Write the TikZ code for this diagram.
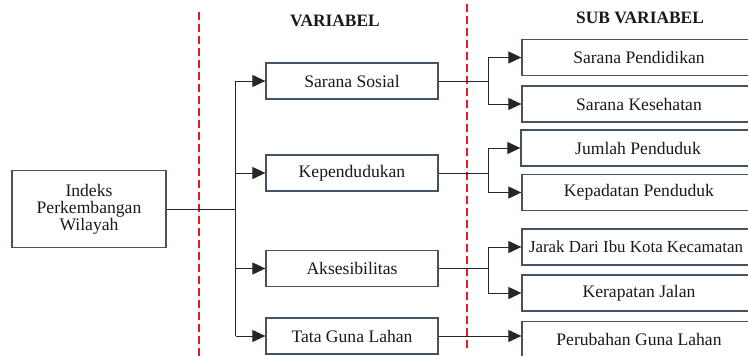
\documentclass[tikz,border=0pt]{standalone}
\usepackage{fontspec}
\setmainfont{Liberation Serif}
\usetikzlibrary{arrows.meta}
\definecolor{boxline}{RGB}{68,82,102}
\definecolor{txt}{RGB}{25,25,25}
\definecolor{dashred}{RGB}{232,24,36}
\tikzset{
  box/.style={draw=boxline, line width=1.3pt, inner sep=0pt, text=txt,
    font=\fontsize{17.6}{16.8}\selectfont, align=center},
  varbox/.style={box, minimum width=172pt, minimum height=36pt},
  subbox/.style={box, minimum width=234pt, minimum height=36pt},
  head/.style={inner sep=0pt, text=txt, font=\fontsize{17.4}{17}\selectfont\bfseries},
  conn/.style={draw=black!85, line width=1pt},
  arr/.style={conn, -{Triangle[length=13pt,width=12pt]}},
  reddash/.style={draw=dashred, line width=2pt, dash pattern=on 8pt off 4pt}
}
\begin{document}
\begin{tikzpicture}[x=1pt,y=-1pt]
\useasboundingbox (0,0) rectangle (748,356);
\clip (0,0) rectangle (748,356);
% headers
\node[head] (hv) at (335,21) {VARIABEL};
\node[head] (hs) at (640,18) {SUB VARIABEL};
% dashed separators
\coordinate (d1a) at (199,12);
\coordinate (d1b) at (199,356);
\coordinate (d2a) at (467,4);
\coordinate (d2b) at (467,348);
\draw[reddash] (d1a) -- (d1b);
\draw[reddash] (d2a) -- (d2b);
% root
\node[box, minimum width=154pt, minimum height=77pt] (ipw) at (89,209.3)
  {Indeks\\Perkembangan\\Wilayah};
% variables
\node[varbox] (ss) at (352,81) {Sarana Sosial};
\node[varbox] (kp) at (352,173) {Kependudukan};
\node[varbox] (ak) at (352,268.5) {Aksesibilitas};
\node[varbox] (tg) at (352,336) {Tata Guna Lahan};
% sub variables
\node[subbox] (sp) at (639,57.5) {Sarana Pendidikan};
\node[subbox] (sk) at (639,104) {Sarana Kesehatan};
\node[subbox] (jp) at (638,148) {Jumlah Penduduk};
\node[subbox] (kd) at (639,192.5) {Kepadatan Penduduk};
\node[subbox, font=\fontsize{16.9}{16.8}\selectfont] (jd) at (639,247)
  {\hspace*{-6pt}Jarak Dari Ibu Kota Kecamatan};
\node[subbox] (kj) at (639,293) {Kerapatan Jalan};
\node[subbox] (pg) at (639,339.7) {Perubahan Guna Lahan};
% trunk
\coordinate (tx) at (235.7,0);
\draw[conn] (ipw.east) -- (ipw.east -| tx);
\draw[conn] (tx |- ss) -- (tx |- tg);
\draw[arr] (tx |- ss) -- (ss.west);
\draw[arr] (tx |- kp) -- (kp.west);
\draw[arr] (tx |- ak) -- (ak.west);
\draw[arr] (tx |- tg) -- (tg.west);
% branches
\coordinate (bx) at (488,0);
\draw[conn] (ss.east) -- (ss.east -| bx);
\draw[conn] (bx |- sp) -- (bx |- sk);
\draw[arr] (bx |- sp) -- (sp.west);
\draw[arr] (bx |- sk) -- (sk.west);
\draw[conn] (kp.east) -- (kp.east -| bx);
\draw[conn] (bx |- jp) -- (bx |- kd);
\draw[arr] (bx |- jp) -- (jp.west);
\draw[arr] (bx |- kd) -- (kd.west);
\draw[conn] (ak.east) -- (ak.east -| bx);
\draw[conn] (bx |- jd) -- (bx |- kj);
\draw[arr] (bx |- jd) -- (jd.west);
\draw[arr] (bx |- kj) -- (kj.west);
\draw[arr] (tg.east) -- (tg.east -| pg.west);
\end{tikzpicture}
\end{document}
